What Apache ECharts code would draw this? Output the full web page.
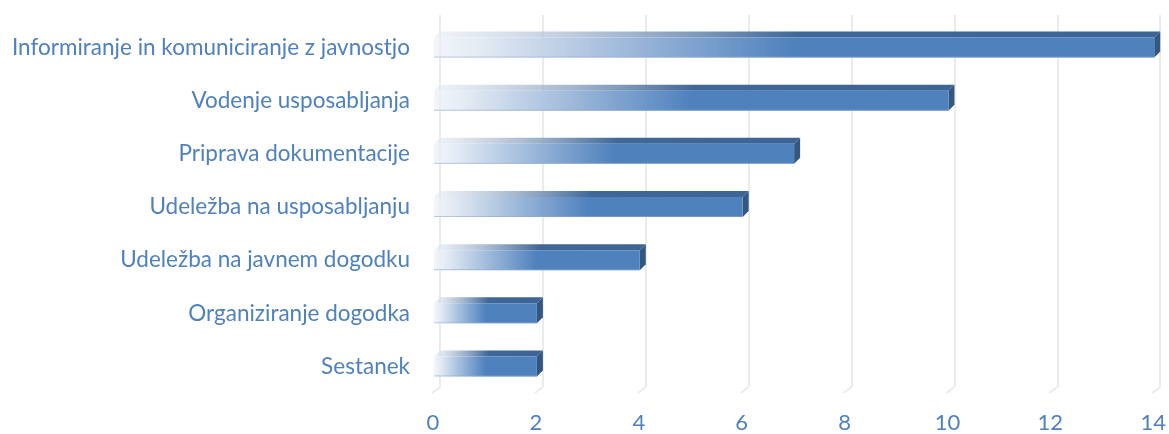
<!DOCTYPE html>
<html>
<head>
<meta charset="utf-8">
<script src="https://cdn.jsdelivr.net/npm/echarts@6/dist/echarts.min.js"></script>
<style>
  html, body { margin: 0; padding: 0; background: #fff; }
  #chart { width: 1169px; height: 434px; }
</style>
</head>
<body>
<div id="chart"></div>
<script>
// data, top to bottom
const categories = [
    'Informiranje in komuniciranje z javnostjo',
    'Vodenje usposabljanja',
    'Priprava dokumentacije',
    'Udeležba na usposabljanju',
    'Udeležba na javnem dogodku',
    'Organiziranje dogodka',
    'Sestanek'
];
const values = [14, 10, 7, 6, 4, 2, 2];
const ticks = [0, 2, 4, 6, 8, 10, 12, 14];

const DX = 6, DY = 6, HALF = 10;

var myChart = echarts.init(document.getElementById('chart'));

function renderBar(params, api) {
    var x0 = api.coord([0, api.value(1)])[0];
    var p = api.coord([api.value(0), api.value(1)]);
    var x1 = p[0], c = p[1];
    var front = [[x0 - DX, c - HALF + DY], [x1 - DX, c - HALF + DY], [x1 - DX, c + HALF + DY], [x0 - DX, c + HALF + DY]];
    var top = [[x0, c - HALF], [x1, c - HALF], [x1 - DX, c - HALF + DY], [x0 - DX, c - HALF + DY]];
    var side = [[x1, c - HALF], [x1, c + HALF], [x1 - DX, c + HALF + DY], [x1 - DX, c - HALF + DY]];
    return {
        type: 'group',
        children: [
            {
                type: 'polygon', shape: {points: top},
                style: {fill: new echarts.graphic.LinearGradient(0, 0, 1, 0, [
                    {offset: 0, color: 'rgba(230,236,244,0.6)'},
                    {offset: 0.5, color: '#3f6797'},
                    {offset: 1, color: '#3d6496'}
                ])}
            },
            {
                type: 'polygon', shape: {points: side},
                style: {fill: '#34577f'}
            },
            {
                type: 'polygon', shape: {points: front},
                style: {
                    fill: new echarts.graphic.LinearGradient(0, 0, 1, 0, [
                        {offset: 0, color: 'rgba(236,241,248,0.7)'},
                        {offset: 0.06, color: '#e4ebf4'},
                        {offset: 0.5, color: '#4f81bd'},
                        {offset: 1, color: '#4f81bd'}
                    ])
                }
            },
            {
                type: 'line',
                shape: {x1: x0 - DX, y1: c + HALF + DY - 0.5, x2: x1 - DX, y2: c + HALF + DY - 0.5},
                style: {stroke: 'rgba(140,170,210,0.6)', lineWidth: 1}
            }
        ]
    };
}

function renderFoot(params, api) {
    var x = api.coord([api.value(0), 0])[0];
    var bottom = params.coordSys.y + params.coordSys.height;
    return {
        type: 'line',
        shape: {x1: x, y1: bottom, x2: x - 8, y2: bottom + 6},
        style: {stroke: '#ebebeb', lineWidth: 2}
    };
}

var option = {
    animation: false,
    grid: {left: 440, right: 8, top: 15, bottom: 44},
    xAxis: {
        type: 'value',
        min: 0, max: 14, interval: 2,
        axisLine: {show: false},
        axisTick: {show: false},
        splitLine: {lineStyle: {color: '#ebebeb', width: 2}},
        axisLabel: {
            color: '#4f81bd', fontFamily: 'Lato', fontSize: 22,
            margin: 25, padding: [0, 14, 0, 0]
        }
    },
    yAxis: {
        type: 'category',
        inverse: true,
        data: categories,
        axisLine: {show: false},
        axisTick: {show: false},
        splitLine: {show: false},
        axisLabel: {
            color: '#4f81bd', fontFamily: 'Lato', fontSize: 22.5,
            margin: 30, verticalAlign: 'top', lineHeight: 12
        }
    },
    series: [
        {
            type: 'custom',
            renderItem: renderFoot,
            encode: {x: 0, y: 1},
            data: ticks.map(t => [t, 0]),
            clip: false,
            silent: true
        },
        {
            type: 'custom',
            renderItem: renderBar,
            encode: {x: 0, y: 1},
            data: values.map((v, i) => [v, i]),
            clip: false,
            z: 3
        }
    ]
};
myChart.setOption(option);
</script>
</body>
</html>
